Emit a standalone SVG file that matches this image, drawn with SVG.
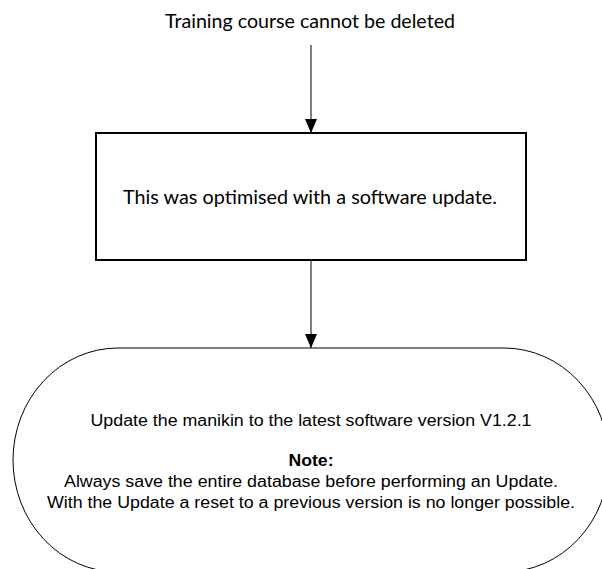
<svg xmlns="http://www.w3.org/2000/svg" width="602" height="569" viewBox="0 0 602 569">
<style>
.cal{font-family:Lato,"Open Sans","Liberation Sans",sans-serif;font-size:19px;fill:#000;text-anchor:middle}
.ar{font-family:"Liberation Sans",Arial,sans-serif;font-size:16px;fill:#000;text-anchor:middle}
.b{font-weight:bold}
.ln{stroke:#000;stroke-width:1;fill:none}
</style>
<defs>
<marker id="ah" markerWidth="14" markerHeight="12" refX="14" refY="6" orient="auto" markerUnits="userSpaceOnUse" viewBox="0 0 14 12">
<path d="M0,0 L14,6 L0,12 Z" fill="#000"/>
</marker>
</defs>
<g id="start">
<text class="cal" x="310" y="28" textLength="290" lengthAdjust="spacingAndGlyphs">Training course cannot be deleted</text>
</g>
<g id="process">
<rect x="96" y="133" width="430" height="127" fill="#fff" stroke="#000" stroke-width="2"/>
<text class="cal" x="310" y="204" textLength="374" lengthAdjust="spacingAndGlyphs">This was optimised with a software update.</text>
</g>
<g id="terminator">
<path d="M118,348 L504,348 A105,112 0 0 1 504,572 L118,572 A105,112 0 0 1 118,348 Z" fill="#fff" stroke="#000" stroke-width="1"/>
<text class="ar" x="311" y="426" textLength="441" lengthAdjust="spacingAndGlyphs">Update the manikin to the latest software version V1.2.1</text>
<text class="ar b" x="311" y="466" textLength="45" lengthAdjust="spacingAndGlyphs">Note:</text>
<text class="ar" x="311" y="487" textLength="494" lengthAdjust="spacingAndGlyphs">Always save the entire database before performing an Update.</text>
<text class="ar" x="311" y="508" textLength="528" lengthAdjust="spacingAndGlyphs">With the Update a reset to a previous version is no longer possible.</text>
</g>
<g id="connectors">
<path class="ln" d="M311,45 L311,133" marker-end="url(#ah)"/>
<path class="ln" d="M311,261 L311,348" marker-end="url(#ah)"/>
</g>
</svg>
